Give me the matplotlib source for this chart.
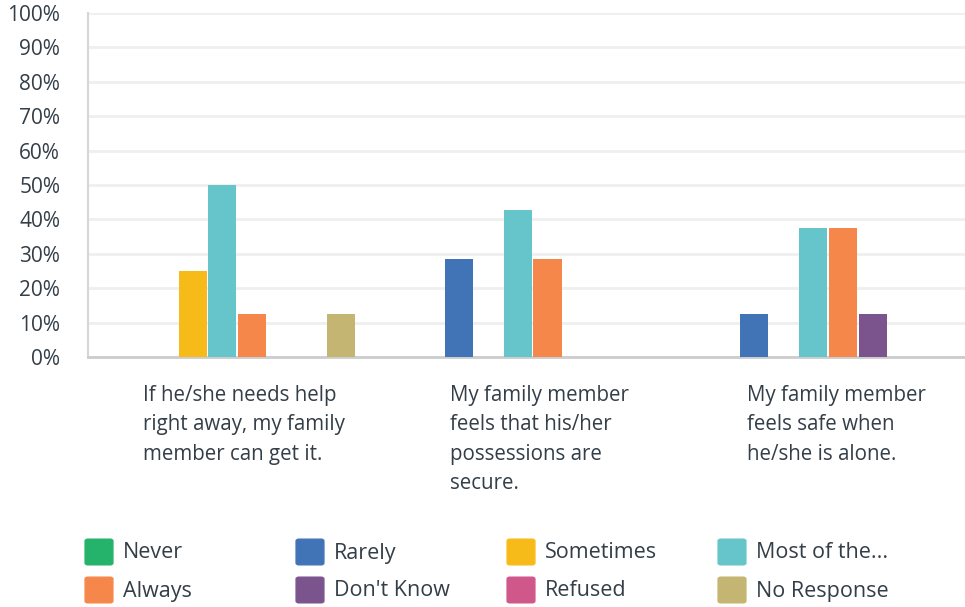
import matplotlib.pyplot as plt
import numpy as np
from matplotlib.patches import FancyBboxPatch

plt.rcParams['font.family'] = ['Open Sans', 'DejaVu Sans']

questions = [
    "If he/she needs help\nright away, my family\nmember can get it.",
    "My family member\nfeels that his/her\npossessions are\nsecure.",
    "My family member\nfeels safe when\nhe/she is alone.",
]
series = ["Never", "Rarely", "Sometimes", "Most of the...",
          "Always", "Don't Know", "Refused", "No Response"]
colors = ["#25b26a", "#4174b6", "#f7bb19", "#65c5ca",
          "#f6874b", "#7b548d", "#d0578a", "#c5b572"]
# percent per question, one list per answer
never = [0, 0, 0]
rarely = [0, 28.57, 12.5]
sometimes = [25, 0, 0]
most = [50, 42.86, 37.5]
always = [12.5, 28.57, 37.5]
dont_know = [0, 0, 12.5]
refused = [0, 0, 0]
no_response = [12.5, 0, 0]
values = [never, rarely, sometimes, most, always, dont_know, refused, no_response]

W, H = 965, 607
fig = plt.figure(figsize=(W / 100, H / 100), dpi=100)
ax = fig.add_axes([88 / W, 1 - 357 / H, (965 - 88) / W, (357 - 13) / H])

text_col = "#333e48"
x = np.arange(len(questions))
pitch = 0.1
for i, (name, vals, c) in enumerate(zip(series, values, colors)):
    ax.bar(x + (i - 3.5) * pitch, vals, width=0.095, color=c, zorder=3)

ax.set_xlim(-0.505, -0.505 + 877 / 295.5)
ax.set_ylim(0, 100)
ax.set_yticks(np.arange(0, 101, 10))
ax.set_yticklabels([f"{v}%" for v in range(0, 101, 10)], fontsize=15, color=text_col)
ax.tick_params(axis='y', length=0, pad=20)
ax.tick_params(axis='x', length=0, labelbottom=False)
ax.grid(axis='y', color="#efefef", linewidth=2, zorder=0)
for s in ["top", "right"]:
    ax.spines[s].set_visible(False)
ax.spines["left"].set_color("#d6d6d6")
ax.spines["left"].set_linewidth(1.5)
ax.spines["bottom"].set_color("#cccccc")
ax.spines["bottom"].set_linewidth(2)

# question labels under each group
label_x = [143, 450, 747]
for q, px in zip(questions, label_x):
    fig.text(px / W, 1 - 385 / H, q, ha="left", va="top", fontsize=14.8,
             color=text_col, linespacing=1.52)

# legend
sq = 28
col_x = [85, 296, 507, 718]
row_y = [552, 590]
for i, (name, c) in enumerate(zip(series, colors)):
    cx = col_x[i % 4]
    cy = row_y[i // 4]
    box = FancyBboxPatch(((cx + 3) / W, 1 - (cy + sq / 2 - 3) / H),
                         (sq - 6) / W, (sq - 6) / H,
                         boxstyle="round,pad=0.003", transform=fig.transFigure,
                         facecolor=c, edgecolor=c, linewidth=1)
    fig.patches.append(box)
    fig.text((cx + sq + 10) / W, 1 - (cy + 1) / H, name, ha="left", va="center",
             fontsize=15.5, color=text_col)

fig.savefig("out.png", dpi=100, facecolor="white")
